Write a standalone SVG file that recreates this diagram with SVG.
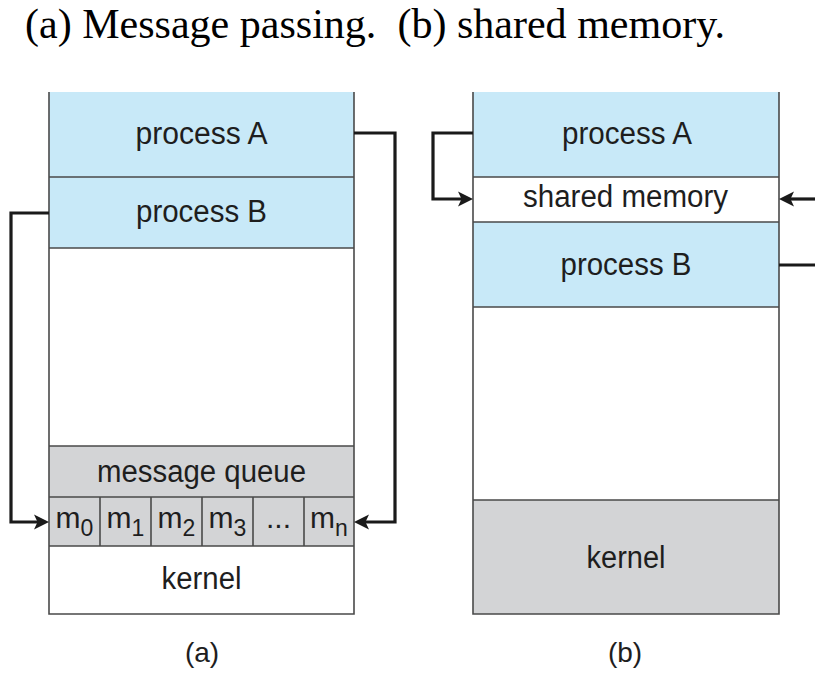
<svg xmlns="http://www.w3.org/2000/svg" width="829" height="678" viewBox="0 0 829 678">
<style>
.blue{fill:#c8e9f8}
.gray{fill:#d3d4d6}
.white{fill:#ffffff}
.bd{stroke:#4a4a4a;stroke-width:1.6;fill:none}
.lbl{font-family:"Liberation Sans",Arial,Helvetica,sans-serif;font-size:31px;fill:#1e1e1e;text-anchor:middle}
.cell{font-family:"Liberation Sans",Arial,Helvetica,sans-serif;font-size:30px;fill:#1e1e1e;text-anchor:middle}
.sub{font-size:23px}
.cap{font-family:"Liberation Sans",Arial,Helvetica,sans-serif;font-size:28px;fill:#1e1e1e;text-anchor:middle}
.conn{stroke:#1a1a1a;stroke-width:3.2;fill:none;stroke-linejoin:miter}
.title{font-family:"Liberation Serif","Times New Roman",serif;font-size:42px;fill:#000}
</style>
<defs>
<marker id="arr" viewBox="0 0 15 16" refX="4" refY="8" markerWidth="15" markerHeight="16" markerUnits="userSpaceOnUse" orient="auto">
<path d="M0,0.5 L15,8 L0,15.5 L3.5,8 z" fill="#1a1a1a"/>
</marker>
</defs>
<rect width="829" height="678" fill="#ffffff"/>
<text class="title" x="25" y="38" textLength="700" lengthAdjust="spacingAndGlyphs" xml:space="preserve">(a) Message passing.  (b) shared memory.</text>

<g id="panel-a">
<g id="a-processA">
<rect class="blue" x="49" y="92" width="305" height="85"/>
<text class="lbl" x="201.5" y="144" textLength="132" lengthAdjust="spacingAndGlyphs">process A</text>
</g>
<g id="a-processB">
<rect class="blue" x="49" y="177" width="305" height="71"/>
<text class="lbl" x="201.5" y="222" textLength="131" lengthAdjust="spacingAndGlyphs">process B</text>
</g>
<g id="a-free">
<rect class="white" x="49" y="248" width="305" height="198"/>
</g>
<g id="a-queue">
<rect class="gray" x="49" y="446" width="305" height="100"/>
<text class="lbl" x="201.5" y="482" textLength="209" lengthAdjust="spacingAndGlyphs">message queue</text>
<path class="bd" d="M49,497 H354 M100,497 V546 M151,497 V546 M202,497 V546 M253,497 V546 M304,497 V546"/>
<text class="cell" x="74.5" y="528">m<tspan class="sub" dy="8">0</tspan></text>
<text class="cell" x="125.5" y="528">m<tspan class="sub" dy="8">1</tspan></text>
<text class="cell" x="176.5" y="528">m<tspan class="sub" dy="8">2</tspan></text>
<text class="cell" x="227.5" y="528">m<tspan class="sub" dy="8">3</tspan></text>
<text class="cell" x="278.5" y="528">...</text>
<text class="cell" x="329" y="528">m<tspan class="sub" dy="8">n</tspan></text>
</g>
<g id="a-kernel">
<rect class="white" x="49" y="546" width="305" height="68"/>
<text class="lbl" x="201.5" y="589" textLength="80" lengthAdjust="spacingAndGlyphs">kernel</text>
</g>
<path class="bd" d="M49,92 V614 H354 V92 M49,177 H354 M49,248 H354 M49,446 H354 M49,546 H354"/>
<text class="cap" x="202" y="662">(a)</text>
</g>

<g id="panel-b">
<g id="b-processA">
<rect class="blue" x="473" y="92" width="306" height="85"/>
<text class="lbl" x="627" y="144" textLength="130" lengthAdjust="spacingAndGlyphs">process A</text>
</g>
<g id="b-shared">
<rect class="white" x="473" y="177" width="306" height="45"/>
<text class="lbl" x="625.5" y="207" textLength="205" lengthAdjust="spacingAndGlyphs">shared memory</text>
</g>
<g id="b-processB">
<rect class="blue" x="473" y="222" width="306" height="85"/>
<text class="lbl" x="626" y="275" textLength="131" lengthAdjust="spacingAndGlyphs">process B</text>
</g>
<g id="b-free">
<rect class="white" x="473" y="307" width="306" height="193"/>
</g>
<g id="b-kernel">
<rect class="gray" x="473" y="500" width="306" height="114"/>
<text class="lbl" x="626" y="568" textLength="79" lengthAdjust="spacingAndGlyphs">kernel</text>
</g>
<path class="bd" d="M473,92 V614 H779 V92 M473,177 H779 M473,222 H779 M473,307 H779 M473,500 H779"/>
<text class="cap" x="625" y="662">(b)</text>
</g>

<g id="connectors">
<path class="conn" d="M49,213 H11 V522 H38" marker-end="url(#arr)"/>
<path class="conn" d="M354,133 H395 V522 H365" marker-end="url(#arr)"/>
<path class="conn" d="M473,133 H433 V199 H462" marker-end="url(#arr)"/>
<path class="conn" d="M815,199 H790" marker-end="url(#arr)"/>
<path class="conn" d="M779,265 H815"/>
</g>
</svg>
